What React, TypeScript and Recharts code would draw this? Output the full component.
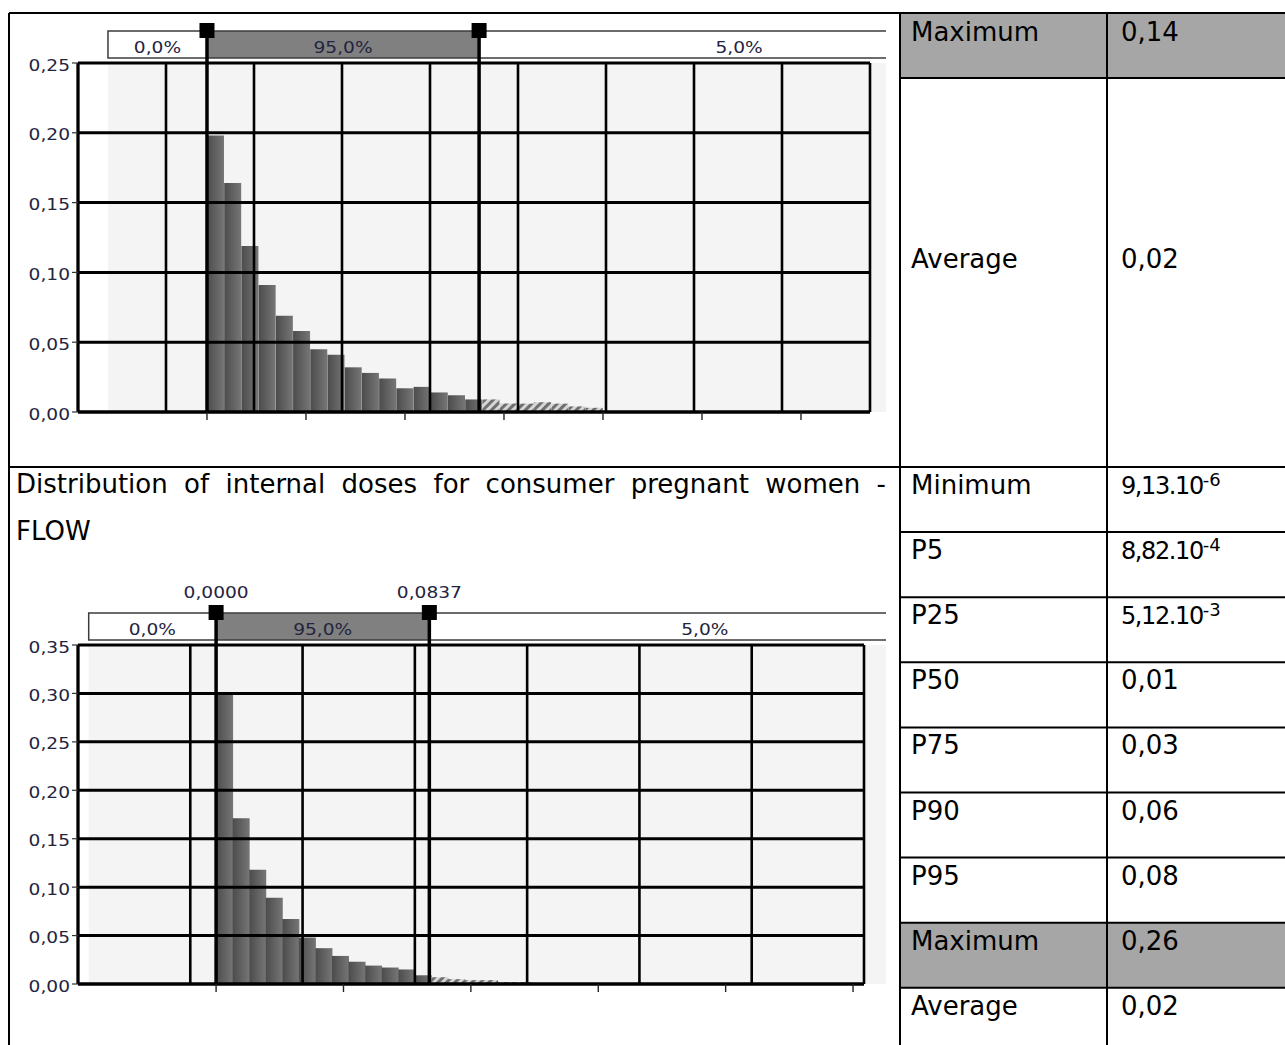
import React from 'react';
import { ComposedChart, Bar, XAxis, YAxis, ReferenceLine, ReferenceArea } from 'recharts';

const FONT = '"DejaVu Sans", Verdana, sans-serif';
const CHART_TEXT = '#24243f';

// ===== Top histogram (previous population) =====
const topBinProbabilities = [
  0.198, 0.164, 0.119, 0.091, 0.069, 0.058, 0.045, 0.041, 0.032, 0.028, 0.024, 0.017,
  0.018, 0.014, 0.012, 0.009, 0.009, 0.006, 0.006, 0.007, 0.006, 0.004, 0.003,
];
const topTailStartIndex = 16;
const topBinWidth = 0.14 / 23;
const topXTicks = [0, 0.035, 0.07, 0.105, 0.14, 0.175, 0.21];
const topYTicks = [0, 0.05, 0.1, 0.15, 0.2, 0.25];
const topXDomain = [-0.0456, 0.2344];
const topBandEdges = [-0.035, 0, 0.0962, 0.28]; // band start, P5, P95, band end
const topBandLabels = ['0,0%', '95,0%', '5,0%'];
const topMarkerLabels = ['', ''];
const topGridDivisions = 9;

// ===== Bottom histogram (consumer pregnant women - FLOW) =====
const bottomBinProbabilities = [
  0.299, 0.171, 0.118, 0.089, 0.067, 0.048, 0.037, 0.029, 0.023, 0.019, 0.017, 0.015,
  0.009, 0.007, 0.005, 0.004, 0.004, 0.002, 0.002,
];
const bottomTailStartIndex = 13;
const bottomBinWidth = 0.0065;
const bottomXTicks = [0, 0.05, 0.1, 0.15, 0.2, 0.25];
const bottomYTicks = [0, 0.05, 0.1, 0.15, 0.2, 0.25, 0.3, 0.35];
const bottomXDomain = [-0.0542, 0.2543];
const bottomBandEdges = [-0.05, 0, 0.0837, 0.3];
const bottomBandLabels = ['0,0%', '95,0%', '5,0%'];
const bottomMarkerLabels = ['0,0000', '0,0837'];
const bottomGridDivisions = 7;

// ===== Statistics table =====
const topStatLabels = ['Maximum', 'Average'];
const topStatValues = ['0,14', '0,02'];
const bottomTitle = 'Distribution of internal doses for consumer pregnant women - FLOW';
const bottomStatLabels = ['Minimum', 'P5', 'P25', 'P50', 'P75', 'P90', 'P95', 'Maximum', 'Average'];
const bottomStatMantissas = ['9,13.10', '8,82.10', '5,12.10', '0,01', '0,03', '0,06', '0,08', '0,26', '0,02'];
const bottomStatExponents = ['-6', '-4', '-3', '', '', '', '', '', ''];
const bottomHighlightedRow = 7;

const fmtComma = (v: number) => v.toFixed(2).replace('.', ',');

function StretchText({ x, y, children, anchor = 'middle' }: any) {
  return (
    <g transform={`translate(${x},${y}) scale(1.2,1)`}>
      <text x={0} y={0} textAnchor={anchor} fontSize={15.5} fontFamily={FONT} fill={CHART_TEXT}>
        {children}
      </text>
    </g>
  );
}

const EmptyTick = () => <g />;

function YTick(props: any) {
  const { x, y, payload } = props;
  return (
    <StretchText x={x} y={y + 7.5} anchor="end">
      {fmtComma(payload.value)}
    </StretchText>
  );
}

function BandSegment({ x, y, width, segFill, segLabel }: any) {
  const top = y - 32;
  return (
    <g>
      <rect x={x} y={top} width={width} height={27} fill={segFill} stroke="#3c3c3c" strokeWidth={1.5} />
      <StretchText x={x + width / 2} y={top + 22}>
        {segLabel}
      </StretchText>
    </g>
  );
}

function Marker({ viewBox, text }: any) {
  if (!viewBox) return null;
  const x = viewBox.x;
  const top = viewBox.y;
  return (
    <g>
      <line x1={x} x2={x} y1={top - 32} y2={top} stroke="#000" strokeWidth={3.5} />
      <rect x={x - 7.5} y={top - 40} width={15} height={15} fill="#000" />
      {text ? <StretchText x={x} y={top - 47}>{text}</StretchText> : null}
    </g>
  );
}

function Histogram(p: any) {
  const data = p.probs.map((v: number, i: number) => ({
    x: (i + 0.5) * p.binWidth,
    solid: i < p.tailStart ? v : 0,
    tail: i >= p.tailStart ? v : 0,
  }));
  const [xMin, xMax] = p.xDomain;
  const gridX = Array.from({ length: p.gridDivisions + 1 }, (_, i) => xMin + (i * (xMax - xMin)) / p.gridDivisions);
  const yMax = p.yTicks[p.yTicks.length - 1];
  const [bStart, p5, p95, bEnd] = p.bandEdges;
  const segments = [
    { x1: bStart, x2: p5, fill: '#ffffff', label: p.bandLabels[0] },
    { x1: p5, x2: p95, fill: '#808080', label: p.bandLabels[1] },
    { x1: p95, x2: bEnd, fill: '#ffffff', label: p.bandLabels[2] },
  ];
  const gradId = p.id + '-grad';
  const hatchId = p.id + '-hatch';
  return (
    <ComposedChart width={p.width} height={p.height} data={data} margin={p.margin} barCategoryGap={0} barGap={0}>
      <defs>
        <linearGradient id={gradId} x1="0" y1="0" x2="1" y2="0">
          <stop offset="0" stopColor="#4c4c4c" />
          <stop offset="1" stopColor="#767676" />
        </linearGradient>
        <pattern id={hatchId} patternUnits="userSpaceOnUse" width={6} height={6} patternTransform="rotate(45)">
          <rect width={6} height={6} fill="#d6d6d6" />
          <rect width={3} height={6} fill="#6f6f6f" />
        </pattern>
      </defs>
      <ReferenceArea x1={bStart} x2={bEnd} y1={0} y2={yMax} fill="#f4f4f4" fillOpacity={1} stroke="none" ifOverflow="visible" />
      <XAxis
        type="number"
        dataKey="x"
        domain={p.xDomain}
        allowDataOverflow
        ticks={p.xTicks}
        interval={0}
        tick={EmptyTick}
        tickSize={8}
        tickLine={{ stroke: '#222', strokeWidth: 1.4 }}
        axisLine={{ stroke: '#000', strokeWidth: 3 }}
        height={30}
      />
      <YAxis
        type="number"
        domain={[0, yMax]}
        allowDataOverflow
        ticks={p.yTicks}
        interval={0}
        tick={YTick}
        tickSize={6}
        tickLine={{ stroke: '#333', strokeWidth: 1.2 }}
        axisLine={{ stroke: '#000', strokeWidth: 3 }}
        width={40}
      />
      <Bar dataKey="solid" stackId="h" fill={`url(#${gradId})`} isAnimationActive={false} />
      <Bar dataKey="tail" stackId="h" fill={`url(#${hatchId})`} isAnimationActive={false} />
      {p.yTicks.map((t: number) => (
        <ReferenceLine key={'h' + t} y={t} stroke="#000" strokeWidth={3} ifOverflow="visible" />
      ))}
      {gridX.map((g: number, i: number) => (
        <ReferenceLine key={'v' + i} x={g} stroke="#000" strokeWidth={2.6} ifOverflow="visible" />
      ))}
      {segments.map((s, i) => (
        <ReferenceArea
          key={'s' + i}
          x1={s.x1}
          x2={s.x2}
          y1={0}
          y2={yMax}
          ifOverflow="visible"
          shape={(sp: any) => <BandSegment {...sp} segFill={s.fill} segLabel={s.label} />}
        />
      ))}
      {[p5, p95].map((v: number, i: number) => (
        <ReferenceLine
          key={'m' + i}
          x={v}
          stroke="#000"
          strokeWidth={3.5}
          ifOverflow="visible"
          label={(lp: any) => <Marker viewBox={lp.viewBox} text={p.markerLabels[i]} />}
        />
      ))}
    </ComposedChart>
  );
}

function TableOverlay() {
  const bottomRowTops = bottomStatLabels.map((_, i) => 467 + i * 65.1);
  return (
    <svg width={1285} height={1045} style={{ position: 'absolute', left: 0, top: 0, pointerEvents: 'none' }}>
      <rect x={900} y={13} width={385} height={65} fill="#a6a6a6" />
      <rect x={900} y={bottomRowTops[bottomHighlightedRow]} width={385} height={65.1} fill="#a6a6a6" />
      <g stroke="#000" strokeWidth={2}>
        <line x1={9} x2={1285} y1={13} y2={13} />
        <line x1={9} x2={9} y1={13} y2={1045} />
        <line x1={900} x2={900} y1={13} y2={1045} />
        <line x1={1107} x2={1107} y1={13} y2={1045} />
        <line x1={900} x2={1285} y1={78} y2={78} />
        <line x1={9} x2={1285} y1={467} y2={467} />
        {bottomRowTops.slice(1).map((t, i) => (
          <line key={i} x1={900} x2={1285} y1={t} y2={t} />
        ))}
      </g>
      <g fontFamily={FONT} fontSize={26} fill="#000">
        {topStatLabels.map((l, i) => (
          <text key={'tl' + i} x={911} y={i === 0 ? 41 : 268}>{l}</text>
        ))}
        {topStatValues.map((v, i) => (
          <text key={'tv' + i} x={1121} y={i === 0 ? 41 : 268}>{v}</text>
        ))}
        {bottomStatLabels.map((l, i) => (
          <text key={'bl' + i} x={911} y={bottomRowTops[i] + 27}>{l}</text>
        ))}
        {bottomStatMantissas.map((m, i) =>
          bottomStatExponents[i] ? (
            <text key={'bv' + i} x={1121} y={bottomRowTops[i] + 27}>
              <tspan fontSize={24} letterSpacing={-1.4}>{m}</tspan>
              <tspan fontSize={18} dy={-8}>{bottomStatExponents[i]}</tspan>
            </text>
          ) : (
            <text key={'bv' + i} x={1121} y={bottomRowTops[i] + 27}>{m}</text>
          )
        )}
      </g>
    </svg>
  );
}

export default function App() {
  return (
    <div style={{ position: 'absolute', left: 0, top: 0, width: 1285, height: 1045, background: '#fff', overflow: 'hidden' }}>
      <div style={{ position: 'absolute', left: 0, top: 0 }}>
        <Histogram
          id="top"
          width={886}
          height={467}
          margin={{ top: 63, right: 16, bottom: 25, left: 38 }}
          probs={topBinProbabilities}
          tailStart={topTailStartIndex}
          binWidth={topBinWidth}
          xDomain={topXDomain}
          xTicks={topXTicks}
          yTicks={topYTicks}
          bandEdges={topBandEdges}
          bandLabels={topBandLabels}
          markerLabels={topMarkerLabels}
          gridDivisions={topGridDivisions}
        />
      </div>
      <div style={{ position: 'absolute', left: 0, top: 468 }}>
        <Histogram
          id="bottom"
          width={886}
          height={577}
          margin={{ top: 177, right: 22, bottom: 31, left: 38 }}
          probs={bottomBinProbabilities}
          tailStart={bottomTailStartIndex}
          binWidth={bottomBinWidth}
          xDomain={bottomXDomain}
          xTicks={bottomXTicks}
          yTicks={bottomYTicks}
          bandEdges={bottomBandEdges}
          bandLabels={bottomBandLabels}
          markerLabels={bottomMarkerLabels}
          gridDivisions={bottomGridDivisions}
        />
      </div>
      <div
        style={{
          position: 'absolute',
          left: 16,
          top: 460.5,
          width: 870,
          fontFamily: FONT,
          fontSize: 26,
          lineHeight: '47px',
          textAlign: 'justify',
          color: '#000',
        }}
      >
        {bottomTitle}
      </div>
      <TableOverlay />
    </div>
  );
}
